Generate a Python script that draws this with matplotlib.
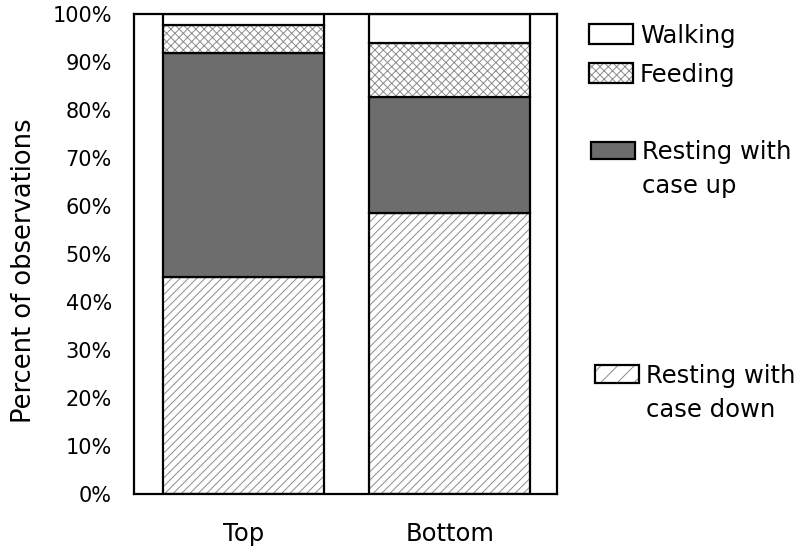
import numpy as np
import matplotlib.pyplot as plt
from matplotlib.patches import Rectangle

plt.rcParams['font.family'] = ['DejaVu Sans']
plt.rcParams['hatch.linewidth'] = 0.7

# Данные (проценты наблюдений)
positions = ['Top', 'Bottom']
case_down = [45.3, 58.5]
case_up = [46.6, 24.2]
feeding = [5.8, 11.2]
walking = [2.3, 6.1]

hatch_col = '#8c8c8c'
dark = '#6d6d6d'

W, H = 807, 552
fig = plt.figure(figsize=(W / 100, H / 100), dpi=100)
ax = fig.add_axes([134 / W, (H - 494) / H, 423 / W, 480 / H])

x = np.arange(len(positions))
w = 0.78

series = [
    (case_down, 'white', '////'),
    (case_up, dark, None),
    (feeding, 'white', 'xxxx'),
    (walking, 'white', None),
]
bottom = np.zeros(len(positions))
for vals, fc, hatch in series:
    vals = np.array(vals)
    if hatch:
        ax.bar(x, vals, w, bottom=bottom, color=fc, hatch=hatch,
               edgecolor=hatch_col, linewidth=0)
        ax.bar(x, vals, w, bottom=bottom, fill=False,
               edgecolor='black', linewidth=1.6)
    else:
        ax.bar(x, vals, w, bottom=bottom, color=fc,
               edgecolor='black', linewidth=1.6)
    bottom += vals

ax.set_xlim(-0.53, 1.52)
ax.set_ylim(0, 100)
ax.set_yticks(np.arange(0, 101, 10))
ax.set_yticklabels([f'{v}%' for v in range(0, 101, 10)])
ax.set_xticks(x)
ax.set_xticklabels(positions)
ax.tick_params(axis='y', length=0, pad=16, labelsize=15)
ax.tick_params(axis='x', length=0, pad=20, labelsize=17.5)
for s in ax.spines.values():
    s.set_linewidth(1.6)
ax.set_ylabel('Percent of observations', fontsize=18.5)
ax.yaxis.set_label_coords((37 - 134) / 423, 0.465)

# Легенда: записи на разной высоте (пиксели от верхнего края)
leg_labels = [['Walking'], ['Feeding'], ['Resting with', 'case up'],
              ['Resting with', 'case down']]
leg_fc = ['white', 'white', dark, 'white']
leg_hatch = [None, 'xxxx', None, '//']
leg_box = [(589, 24, 44, 20), (589, 63, 44, 20), (591, 142, 44, 17), (595, 365, 44, 18)]
leg_text = [(640, 43), (640, 82), (642, 159), (646, 383)]
line_gap = 34

for labels, fc, hatch, (bx, by, bw, bh), (tx, ty) in zip(leg_labels, leg_fc, leg_hatch,
                                                         leg_box, leg_text):
    r = Rectangle((bx / W, 1 - (by + bh) / H), bw / W, bh / H, transform=fig.transFigure,
                  facecolor=fc, edgecolor=hatch_col if hatch else 'black',
                  hatch=hatch, linewidth=0 if hatch else 1.6)
    fig.add_artist(r)
    if hatch:
        fig.add_artist(Rectangle((bx / W, 1 - (by + bh) / H), bw / W, bh / H,
                                 transform=fig.transFigure, fill=False,
                                 edgecolor='black', linewidth=1.6))
    for i, line in enumerate(labels):
        fig.text(tx / W, 1 - (ty + i * line_gap) / H, line, fontsize=17.5,
                 va='baseline', ha='left')

fig.savefig('out.png', dpi=100)
